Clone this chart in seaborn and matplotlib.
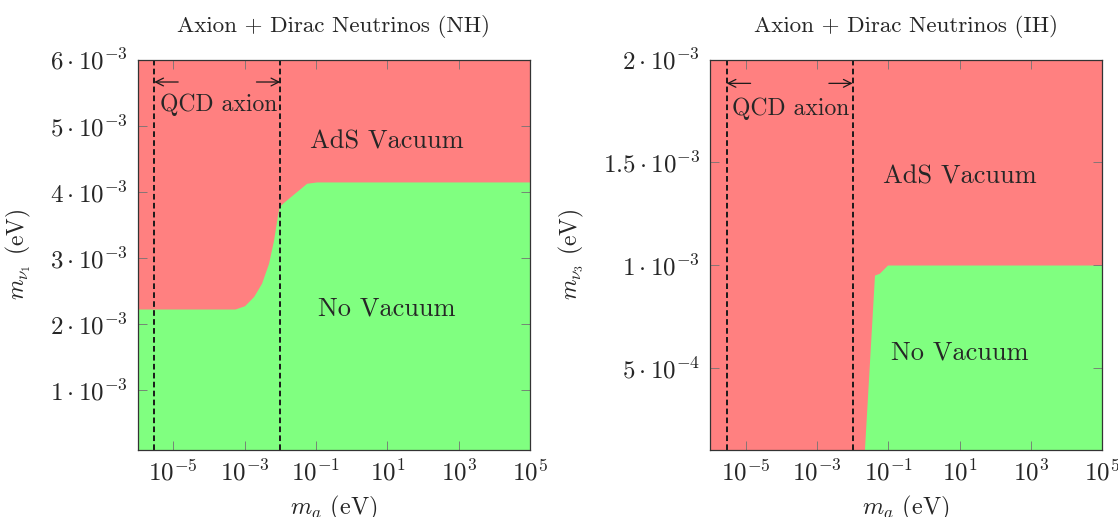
import numpy as np
import matplotlib
matplotlib.use("Agg")
import matplotlib.pyplot as plt
import seaborn as sns

# boundary of the "No Vacuum" region
NH_x = [1e-6, 5.4e-4, 1.0e-3, 1.8e-3, 3.0e-3, 4.7e-3, 6.5e-3, 8.3e-3, 9.3e-3,
        1.23e-2, 5.5e-2, 1.05e-1, 1e5]
NH_y = [2.23e-3, 2.23e-3, 2.28e-3, 2.42e-3, 2.62e-3, 2.92e-3, 3.27e-3, 3.63e-3,
        3.78e-3, 3.84e-3, 4.13e-3, 4.15e-3, 4.15e-3]

IH_y = [1e-4, 9.51e-4, 9.6e-4, 1.0e-3]
IH_x = [2.14e-2, 4.1e-2, 5.6e-2, 9.5e-2]

QCD_range = [2.95e-6, 1e-2]
arrow_tails = [1.38e-5, 2.16e-3]
x_lim = [1e-6, 1e5]
x_ticks = [1e-5, 1e-3, 1e-1, 1e1, 1e3, 1e5]
x_labels = [r"$10^{-5}$", r"$10^{-3}$", r"$10^{-1}$", r"$10^{1}$", r"$10^{3}$", r"$10^{5}$"]

NH_ylim = [1e-4, 6e-3]
NH_yticks = [1e-3, 2e-3, 3e-3, 4e-3, 5e-3, 6e-3]
NH_ylabels = [r"$%d\cdot10^{-3}$" % k for k in range(1, 7)]

IH_ylim = [1e-4, 2e-3]
IH_yticks = [5e-4, 1e-3, 1.5e-3, 2e-3]
IH_ylabels = [r"$5\cdot10^{-4}$", r"$1\cdot10^{-3}$", r"$1.5\cdot10^{-3}$", r"$2\cdot10^{-3}$"]

RED = "#FF8080"
GREEN = "#80FF80"

sns.set_theme(style="ticks")
plt.rcParams.update({
    "font.family": "cmr10",
    "mathtext.fontset": "cm",
    "axes.formatter.use_mathtext": True,
    "axes.unicode_minus": False,
    "xtick.direction": "in",
    "ytick.direction": "in",
    "xtick.top": True,
    "ytick.right": True,
})

fig = plt.figure(figsize=(11.18, 5.17), dpi=100)
ax1 = fig.add_axes([0.123, 0.1296, 0.351, 0.7553])
ax2 = fig.add_axes([0.635, 0.1296, 0.351, 0.7553])


def style_axis(ax, ylim, yticks, ylabels, title, ylabel, txt):
    ax.set_facecolor(RED)
    ax.set_xscale("log")
    ax.set_xlim(x_lim)
    ax.set_ylim(ylim)
    ax.set_xticks(x_ticks)
    ax.set_xticklabels(x_labels)
    ax.xaxis.set_minor_locator(matplotlib.ticker.NullLocator())
    ax.set_yticks(yticks)
    ax.set_yticklabels(ylabels)
    ax.tick_params(which="major", length=6.5, width=0.6, color="0.45",
                   labelsize=18, pad=7)
    for s in ax.spines.values():
        s.set_color("0.2")
        s.set_linewidth(0.9)
    ax.set_title(title, fontsize=16.6, pad=20)
    ax.set_xlabel(r"$m_a$ (eV)", fontsize=17.5, labelpad=6)
    ax.set_ylabel(ylabel, fontsize=17, labelpad=12)

    for xv in QCD_range:
        ax.axvline(xv, color="k", lw=1.4, ls=(0, (2.9, 1.7)))
    ya, yt, yads, yno = txt
    for head, tail in zip(QCD_range, arrow_tails):
        ax.annotate("", xy=(head, ya), xytext=(tail, ya),
                    arrowprops=dict(arrowstyle="->", lw=0.9, color="k",
                                    shrinkA=0, shrinkB=0, mutation_scale=14))
    ax.text(4.2e-6, yt, "QCD axion", fontsize=17, ha="left", va="baseline")
    ax.text(10, yads, "AdS Vacuum", fontsize=19, ha="center", va="baseline")
    ax.text(10, yno, "No Vacuum", fontsize=19, ha="center", va="baseline")


# left: normal hierarchy
ax1.fill_between(NH_x, NH_ylim[0], NH_y, color=GREEN, lw=0, zorder=0.5)
style_axis(ax1, NH_ylim, NH_yticks, NH_ylabels,
           "Axion + Dirac Neutrinos (NH)", r"$m_{\nu_1}$ (eV)",
           (5.66e-3, 5.22e-3, 4.66e-3, 2.136e-3))

# right: inverted hierarchy
ax2.fill_betweenx(IH_y, IH_x, x_lim[1], color=GREEN, lw=0, zorder=0.5)
style_axis(ax2, IH_ylim, IH_yticks, IH_ylabels,
           "Axion + Dirac Neutrinos (IH)", r"$m_{\nu_3}$ (eV)",
           (1.884e-3, 1.73e-3, 1.397e-3, 0.541e-3))

fig.savefig("out.png", dpi=100)
